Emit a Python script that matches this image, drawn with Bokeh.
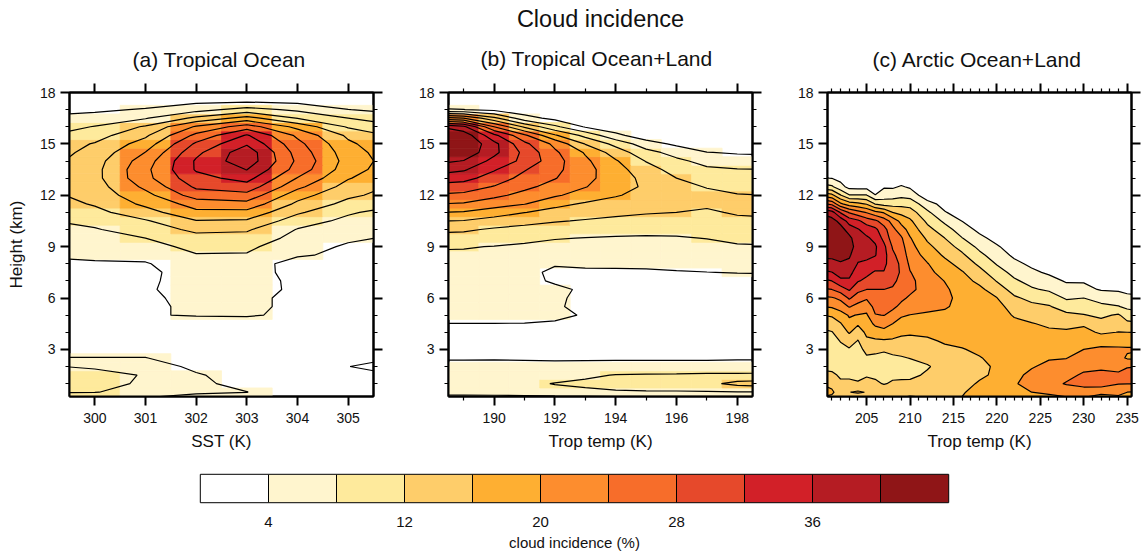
import numpy as np
from bokeh.embed import file_html
from bokeh.layouts import column, row
from bokeh.models import CustomLabelingPolicy, FixedTicker, LinearAxis, Range1d, Title
from bokeh.plotting import figure
from bokeh.resources import INLINE

FONT = "Liberation Sans"
levels = [4, 8, 12, 16, 20, 24, 28, 32, 36, 40]
band_edges = [0, 4, 8, 12, 16, 20, 24, 28, 32, 36, 40, 44]
band_colors = ["#FFFFFF", "#FFF5CE", "#FEEA9C", "#FECD6A", "#FEAF32", "#FD8D2E",
               "#F76D2A", "#E6492B", "#D22028", "#B51C23", "#8F1517"]
bar_labels = [4, 12, 20, 28, 36]

# heights (km), listed from the top of the table downwards
heights = [18, 17.5, 17, 16.5, 16, 15.5, 15, 14.5, 14, 13.5, 13, 12.5, 12, 11.5, 11, 10.5, 10, 9.5, 9,
           8.5, 8, 7.5, 7, 6.5, 6, 5.5, 5, 4.5, 4, 3.5, 3, 2.5, 2, 1.5, 1, 0.5, 0.25]
heights_c = [14, 13.5, 13, 12.5, 12, 11.5, 11, 10.5, 10, 9.5, 9, 8.5, 8, 7.5, 7, 6.5, 6, 5.5, 5,
             4.5, 4, 3.5, 3, 2.5, 2, 1.5, 1, 0.5, 0.25]

sst = [300, 301, 302, 303, 304, 305]
a300 = [0,0.9,3.2,5.7,8.2,10.3,12.3,13.4,14.4,14.8,14.8,14.2,13.6,12.4,10.9,9.1,7.7,6.6,5.5,4.5,3.7,3.2,3,2.8,2.6,2.4,2.2,2,1.9,2,2.7,4.1,7.4,9.5,9.8,8.1,4.2]
a301 = [0,1.5,4.4,7.7,12.5,15.3,17.8,20.1,22,23,22.8,20.9,18.7,16.9,14.4,11.6,9.9,8,6.8,5.5,3.6,2.7,3.1,3.5,3.3,3.4,3.9,3,2.2,1.8,2.4,4.1,5.6,7.7,7.2,7.0,4.2]
a302 = [0,3,6.6,12.9,20.5,25,28.7,31,32.5,32.4,30.7,28.7,25.9,21.6,19.1,15.8,12.9,10.7,8.9,7.8,7.2,6.7,6.2,5.7,5.1,4.6,4.1,3.3,2.6,2.2,2,2.2,3.3,4.3,4.4,4.3,3.5]
a303 = [0,3.3,9.5,17.5,26,32.4,35.5,38.5,38.5,36.1,33.4,30.4,26.7,22.7,18.8,15.5,12.5,10.6,8.8,7.7,7.2,6.7,6.2,5.65,5.15,4.6,4.1,3.5,3,2.6,2.4,2.4,2.5,2.7,3.4,4.05,1.5]
a304 = [0,2.8,7.2,11.8,18.8,23.2,25.2,26.4,27.2,26.4,23.8,21,17.6,15.2,12.6,9.9,7.8,6.7,5.6,4.6,1.4,1.9,2.9,3.25,2.85,3.4,3.8,2.6,2,1.9,1.7,1.6,1.5,1.6,1.8,2.2,1.5]
a305 = [0,1.6,4.1,8,11.5,15.2,16.8,17.8,18.4,17.8,16.3,14.4,12.8,10.8,8.5,7,5.9,4.6,3.5,2.8,2.5,2.3,2.2,2.2,2.2,2.2,2.2,2.2,2.2,2.2,2.3,3,3.95,3,2,1.6,1]

trop_b = [189, 190, 191, 192, 193, 194, 195, 196, 197, 198]
b189 = [0,1.5,4.05,20,37,42.5,44,43,39.8,36.5,33.4,29.9,27.1,23.6,19.6,15.8,12.6,10.4,8.2,7.5,7.1,6.7,6.2,5.8,5.4,4.9,4.4,3.98,3.4,3.2,3.3,3.8,4.6,5.4,6,5,3.5]
b190 = [0,1,3,13,24,33,37.2,37,34.7,32.4,30.1,27.8,25,21.8,18,14.3,11.5,9.5,7.9,7.4,7,6.6,6.2,5.7,5.3,4.8,4.4,3.98,3.2,3,3.2,3.8,4.7,5.6,6.2,5.2,3.5]
b191 = [0,0.4,1.5,5.6,15.3,24.8,29,31,31,28.3,26.8,25,22.7,20.2,16.1,13.2,10.8,8.8,7.5,7.3,6.9,6.5,6,5.6,5.1,4.7,4.3,3.98,3.1,2.9,3,3.7,4.8,5.8,7,5.8,3.5]
b192 = [0,0.2,0.8,2.8,8.9,16.5,23,24.7,25.5,25,24.2,22.5,20.6,17,14.8,12.3,10,8.2,7,5.9,4.8,2.2,3.1,5.5,5,4.7,4.4,3.8,2.9,2.7,2.9,3.6,4.8,6.2,8.2,6.5,3.6]
b193 = [0,0,0.5,1.8,3.6,10.8,15.8,19.6,20.8,21.4,21.2,20.2,18.1,15.6,13.5,11.7,9.5,7.9,6.9,5.8,4.7,3.3,2.3,2.9,2.5,2.5,3.85,3,2.5,2.4,2.7,3.6,4.9,7.2,8.9,7,3.7]
b194 = [0,0,0.2,0.8,1.5,5,10.8,14.2,16.4,17.5,17.8,17.4,16.3,14.6,12.9,11.1,9.3,7.7,6.7,5.6,4.6,3.5,2.4,2.3,2.2,2.2,2.3,2.4,2.3,2.3,2.6,3.6,5,8.2,9.5,7.5,3.8]
b195 = [0,0,0,0.3,0.8,1.7,5.8,9.4,11.8,13.7,15,15.5,14.8,13.6,12.3,10.7,9,7.6,6.6,5.6,4.6,3.6,2.4,2.2,2.1,2.2,2.2,2.3,2.2,2.3,2.6,3.6,5,8.4,10,7.6,3.8]
b196 = [0,0,0,0.1,0.5,1.2,3.2,6.5,8.9,10.4,12,13.2,13.8,13.3,12,10.6,9,7.7,6.8,5.6,4.8,3.8,2.5,2.2,2.1,2.2,2.2,2.3,2.2,2.3,2.6,3.6,5,8.5,10.4,7.6,3.8]
b197 = [0,0,0,0,0.3,0.7,1.4,4.1,6.7,8.7,10.2,11.8,12.9,12.6,11.5,10.4,9.2,8.1,7.1,6,5,3.96,2.6,2.2,2.1,2.2,2.2,2.3,2.2,2.3,2.6,3.6,5,8.7,11,7.7,3.9]
b198 = [0,0,0,0,0.2,0.4,1,3.6,5.8,8.2,9.5,10.9,12.2,13.2,12.4,11.2,10,8.8,7.6,6.5,5.3,4.1,3.1,2.4,2.2,2.2,2.2,2.3,2.2,2.3,2.6,3.7,5,8.8,13.1,7.8,3.9]

trop_c = [201, 202, 203, 204, 205, 206, 207, 208, 209, 210, 212, 214, 216, 218, 220, 222, 224, 226, 228, 230, 232, 234, 235]
c201 = [0,1.5,3.9,8.6,17.1,26.8,37.6,41.5,42.5,43.5,43,41,38.6,35.9,32,28,23.6,20.5,16.5,14,11.8,10.5,9.8,10,11,12.7,15,16.6,15.5]
c202 = [0,0.8,2.8,5.4,12.3,20.7,31.6,38.8,41.5,42.5,42.3,41,39.7,38,35,30,24.8,22,18.1,15.7,13.7,12.2,11,10.5,10.7,11.5,12.6,14.2,14]
c203 = [0,0.2,1.4,2.7,8.3,18,27.6,34.3,38.3,41,42,40.6,39,37.3,35.4,32.5,28.6,24.3,20.4,19,16.4,13.9,11.6,10.7,10.8,11.5,12.6,15.9,14]
c204 = [0,0,0.8,2.5,8.3,17,25.5,32.8,36.3,37.6,38,37,35.8,34,32.3,29.2,25.8,22.8,19.8,16.5,14,11.8,10.5,10,10.5,11.3,12.3,16.6,14]
c205 = [0,0,0.6,2.6,8.2,15.6,23.7,30.2,34.3,36.6,37.8,37,35.2,33,31.1,28,24.5,21.6,19.5,18,16.8,15.3,13.2,11.4,10.8,11.6,13.4,15.8,15.5]
c206 = [0,0,0.5,1.4,4.2,11.7,21.2,28.8,32.9,35,36.5,36.2,33.9,31.6,29.6,28,26.6,25.3,23.8,20.8,18,15.4,12.8,11.3,10.9,11.4,12.6,15,15]
c207 = [0,0,1.5,3.6,5.9,10.4,19.6,26.1,29.4,30.8,33,33.5,33,31.8,29.7,28,26.8,25.4,24.1,21.4,18.9,15.5,12.4,11.1,10.5,10.8,11.8,14.4,14]
c208 = [0,0,1.5,3.4,6.3,10.4,16,22.5,25.1,26.1,27.6,28.8,29.6,29.4,28.8,27.6,26.3,24.9,22.5,20,17.6,15.5,13,11.4,10.5,11.4,12.4,14.5,15]
c209 = [0,0,1.5,4.4,7,10.6,14.9,18.7,21.8,24.5,25.5,26.4,27.3,27.6,27,25.9,24.8,23,20.5,18.5,16.8,15,13.2,11.7,10.6,11.1,12.8,15,15.8]
c210 = [0,0,1,3.4,6.5,10.4,13.9,16.7,18.5,20.3,21.4,22.2,23.2,24.2,25,24.9,23.4,21.9,19.9,18.2,16.5,15,13.6,12.1,10.8,11.2,12.8,15,16.1]
c212 = [0,0,0,0.5,1.5,5.6,8.8,11.1,13.3,15.3,17,18.6,20.2,21,21.8,22.3,22.2,20.9,19.5,18.3,16.9,15.3,14.2,13,11.7,12.5,13.7,15,15.8]
c214 = [0,0,0,0,0.8,2.5,4.3,7.2,9.7,12,13.8,15.4,17.2,18.6,19.9,20.6,20.8,20.3,19.4,18.5,17.6,16.5,15.2,14,13.3,13.8,14.6,15.4,15.8]
c216 = [0,0,0,0,0,1,2,3.9,6,8.1,10.6,12.7,14.5,16.3,17.4,18.4,19,19.2,18.9,18.3,17.6,16.9,15.8,15,14.8,15,15.4,15.8,16]
c218 = [0,0,0,0,0,0.5,1,1.5,3,5,7,9,11.2,13.3,15.1,16.9,18,18.8,19,19,18.7,18,16.7,15.8,15.5,15.7,16.2,16.8,17]
c220 = [0,0,0,0,0,0,0.5,1,1.8,2.6,4.5,6,7.7,9.7,11.8,14,16.1,17.6,18.6,19,19.1,18.8,18,17,16.3,16.3,16.8,17.3,17.4]
c222 = [0,0,0,0,0,0,0,0.5,0.9,1.3,1.8,3.3,5,6.8,8.6,10.5,12.6,14,15.5,17.3,18.5,18.8,18.6,18.3,18.5,19,19.6,18.8,18]
c224 = [0,0,0,0,0,0,0,0,0.4,0.7,1.1,1.5,3.2,4.8,6.7,8.5,11,12.9,14.6,16.2,17.2,18.1,18.5,18.9,19.7,20.9,21.5,20,18.7]
c226 = [0,0,0,0,0,0,0,0,0,0.4,0.8,1.2,1.8,3.4,5.4,7.4,10.3,12.3,13.9,15.4,16.6,17.6,18.7,19.7,20.9,22.2,22.8,21,19]
c228 = [0,0,0,0,0,0,0,0,0,0,0.5,0.9,1.4,2,3.6,5.5,7.5,10.3,12.8,14.8,16.6,17.6,18.7,19.9,21.4,23,24.3,21.5,20.1]
c230 = [0,0,0,0,0,0,0,0,0,0,0,0.5,1,1.8,3.7,5,8,10,12.2,15.4,17.2,18.5,20,21.5,23.1,24.5,25.3,22,20.4]
c232 = [0,0,0,0,0,0,0,0,0,0,0,0,0.5,1,2,3.7,6.4,9,11.2,13.3,15.4,18.4,20.8,21.9,23.4,24.8,25.9,21,19]
c234 = [0,0,0,0,0,0,0,0,0,0,0,0,0.4,0.9,1.8,3.5,5.8,8.2,12.5,14,16.1,18.7,20.5,21,23.3,24.4,24.2,21,19.7]
c235 = [0,0,0,0,0,0,0,0,0,0,0,0,0.3,0.7,1.5,3,5,7.2,10,13,16,18.7,20.4,19.6,23.8,25.1,24.1,20,19.5]

a_cols = [a300, a301, a302, a303, a304, a305]
b_cols = [b189, b190, b191, b192, b193, b194, b195, b196, b197, b198]
c_cols = [c201, c202, c203, c204, c205, c206, c207, c208, c209, c210, c212, c214, c216, c218, c220,
          c222, c224, c226, c228, c230, c232, c234, c235]


def grid_of(cols, ys):
    return np.array(ys[::-1], float), np.array(cols, float).T[::-1]


def padded(xs, z, k=0.15):
    """Carry the grid out to the half-cell frame edges so the contours reach the frame."""
    xs = np.array(xs, float)
    left = z[:, 0] + k * (z[:, 0] - z[:, 1])
    right = z[:, -1] + k * (z[:, -1] - z[:, -2])
    xp = np.concatenate([[xs[0] - 0.5], xs, [xs[-1] + 0.5]])
    return xp, np.column_stack([np.clip(left, 0, None), z, np.clip(right, 0, None)])


def add_cells(p, xs, y, z):
    l, r, b, t, c = [], [], [], [], []
    for j in range(1, len(y)):
        for i, x in enumerate(xs):
            band = min(int(z[j, i] // 4), 10)
            if band == 0:
                continue
            l.append(x - 0.5); r.append(x + 0.5)
            b.append(y[j] - 0.25); t.append(y[j] + 0.25)
            c.append(band_colors[band])
    p.quad(left=l, right=r, bottom=b, top=t, fill_color=c, line_color=c, line_width=0.8)


def panel_title(text, offset, standoff=12):
    return Title(text=text, align="left", offset=offset, standoff=standoff, text_font=FONT,
                 text_font_size="21px", text_font_style="normal", text_color="#111111")


def make_panel(x_range, majors, minors, bl, br, ylabel=None, xlabel="", top_standoff=3):
    p = figure(frame_width=304, frame_height=304, x_range=Range1d(*x_range), y_range=Range1d(0.25, 18),
               min_border_left=bl, min_border_right=br, min_border_top=92, min_border_bottom=69,
               output_backend="svg", toolbar_location=None, background_fill_color="white",
               outline_line_color="black", outline_line_width=2)
    p.grid.visible = False
    y_major = [3, 6, 9, 12, 15, 18]
    y_minor = [1, 2, 4, 5, 7, 8, 10, 11, 13, 14, 16, 17]
    bottom, left = p.below[0], p.left[0]
    bottom.ticker = FixedTicker(ticks=majors, minor_ticks=minors)
    left.ticker = FixedTicker(ticks=y_major, minor_ticks=y_minor)
    top = LinearAxis(ticker=FixedTicker(ticks=majors, minor_ticks=minors))
    right = LinearAxis(ticker=FixedTicker(ticks=y_major, minor_ticks=y_minor))
    p.add_layout(top, "above")
    p.add_layout(right, "right")
    for ax in (bottom, left, top, right):
        ax.major_tick_out = 9
        ax.major_tick_in = 0
        ax.minor_tick_out = 4
        ax.minor_tick_in = 0
        ax.axis_line_width = 2
        ax.major_tick_line_width = 2
        ax.minor_tick_line_width = 1.2
        ax.major_label_text_font = FONT
        ax.major_label_text_font_size = "14px"
        ax.major_label_text_color = "#111111"
        ax.axis_label_text_font = FONT
        ax.axis_label_text_font_size = "17px"
        ax.axis_label_text_font_style = "normal"
        ax.axis_label_text_color = "#111111"
    for ax in (top, right):
        ax.major_label_policy = CustomLabelingPolicy(code="return []")
        ax.major_label_text_font_size = "1px"
        ax.major_label_standoff = 0
    top.major_label_standoff = top_standoff
    bottom.major_label_standoff = 7
    left.major_label_standoff = 5
    bottom.axis_label = xlabel
    bottom.axis_label_standoff = 6
    if ylabel:
        left.axis_label = ylabel
        left.axis_label_standoff = 11
    return p


# ---- panel a
pa = make_panel((299.5, 305.5), sst, [], 69, 37, "Height (km)", "SST (K)")
pa.title = panel_title("(a) Tropical Ocean", 63)
ya, za = grid_of(a_cols, heights)
add_cells(pa, sst, ya, za)
xp, zp = padded(sst, za, 0.27)
pa.contour(xp, ya, zp, levels, fill_color=None, line_color="black", line_width=1.2)

# ---- panel b
pb = make_panel((188.5, 198.5), [190, 192, 194, 196, 198], [189, 191, 193, 195, 197], 38, 38,
                None, "Trop temp (K)", top_standoff=0)
pb.title = Title(text="Cloud incidence", align="center", standoff=7, text_font=FONT,
                 text_font_size="23.5px", text_font_style="normal", text_color="#111111")
pb.add_layout(panel_title("(b) Tropical Ocean+Land", 32, 19), "above")
yb, zb = grid_of(b_cols, heights)
add_cells(pb, trop_b, yb, zb)
xp, zp = padded(trop_b, zb)
pb.contour(xp, yb, zp, levels, fill_color=None, line_color="black", line_width=1.2)

# ---- panel c
minor_c = [v for v in range(201, 236) if v % 5]
pc = make_panel((200.5, 235.5), [205, 210, 215, 220, 225, 230, 235], minor_c, 37, 10,
                None, "Trop temp (K)")
pc.title = panel_title("(c) Arctic Ocean+Land", 45)
yc, zc = grid_of(c_cols, heights_c)
xp, zp = padded(trop_c, zc)
pc.contour(xp, yc, zp, [-1] + levels + [60], fill_color=band_colors, line_color=None)
pc.contour(xp, yc, zp, levels, fill_color=None, line_color="black", line_width=1.2)

# ---- colour bar
cb = figure(frame_width=748, frame_height=28, x_range=Range1d(0, 44), y_range=Range1d(0, 1),
            min_border_left=200, min_border_right=193, min_border_top=9, min_border_bottom=51,
            output_backend="svg", toolbar_location=None, outline_line_color="#333333", outline_line_width=1.5)
cb.grid.visible = False
cb.yaxis.visible = False
cb.quad(left=band_edges[:-1], right=band_edges[1:], bottom=0, top=1, fill_color=band_colors, line_color="black",
        line_width=1)
ax = cb.below[0]
ax.ticker = FixedTicker(ticks=bar_labels)
ax.major_tick_out = 0
ax.major_tick_in = 0
ax.minor_tick_out = 0
ax.minor_tick_in = 0
ax.axis_line_color = None
ax.major_label_standoff = 14
ax.major_label_text_font = FONT
ax.major_label_text_font_size = "15px"
ax.major_label_text_color = "#111111"
ax.axis_label = "cloud incidence (%)"
ax.axis_label_standoff = 4
ax.axis_label_text_font = FONT
ax.axis_label_text_font_size = "15px"
ax.axis_label_text_font_style = "normal"
ax.axis_label_text_color = "#111111"

layout = column(row(pa, pb, pc, spacing=0), cb, spacing=0)
open("out.html", "w").write(file_html(layout, INLINE))
